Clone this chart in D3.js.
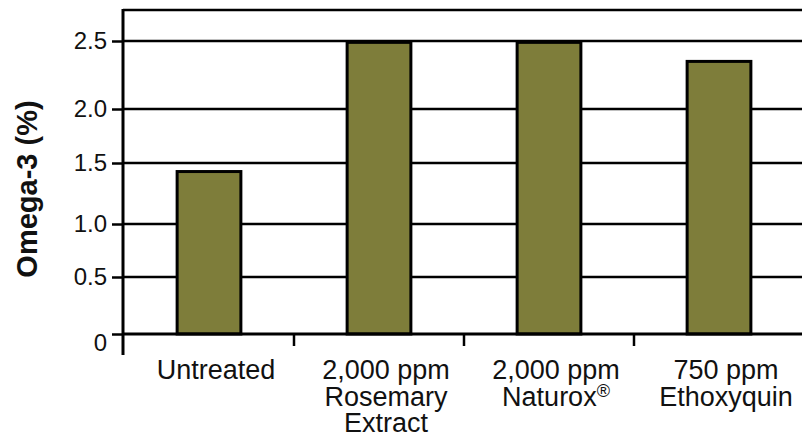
<!DOCTYPE html>
<html>
<head>
<meta charset="utf-8">
<script src="https://cdn.jsdelivr.net/npm/d3@7"></script>
<style>
  body { margin: 0; background: #fff; }
  svg { display: block; font-family: "Liberation Sans", Arial, sans-serif; }
</style>
</head>
<body>
<svg id="chart" width="802" height="437"></svg>
<script>
// values
const categories = ['Untreated', '2,000 ppm Rosemary Extract', '2,000 ppm Naturox®', '750 ppm Ethoxyquin']
const labelLines = [['Untreated'], ['2,000 ppm', 'Rosemary', 'Extract'], ['2,000 ppm', 'Naturox®'], ['750 ppm', 'Ethoxyquin']]
const omega3 = [1.43, 2.49, 2.49, 2.35]
const yTicks = [0, 0.5, 1.0, 1.5, 2.0, 2.5]
const yTickLabels = ['0', '0.5', '1.0', '1.5', '2.0', '2.5']

const svg = d3.select('#chart')
const plotLeft = 123, plotRight = 804, plotTop = 10, plotBottom = 334

// the source image has slightly uneven gridline spacing, so map each tick to where it sits
const y = d3.scaleLinear()
    .domain(yTicks)
    .range([334, 277, 224, 163, 109, 41])

const x = d3.scaleBand()
    .domain(categories)
    .range([plotLeft + 1, plotRight])
    .padding(0)

// gridlines (behind bars)
svg.append('g')
    .selectAll('line')
    .data(yTicks.filter(d => d > 0))
    .join('line')
    .attr('x1', plotLeft).attr('x2', 802)
    .attr('y1', d => y(d)).attr('y2', d => y(d))
    .attr('stroke', '#000')
    .attr('stroke-width', 2.5)

// top frame line
svg.append('line')
    .attr('x1', plotLeft).attr('x2', 802)
    .attr('y1', plotTop).attr('y2', plotTop)
    .attr('stroke', '#000').attr('stroke-width', 2.5)

// bars
const barW = x.bandwidth() * 0.375
svg.append('g')
    .selectAll('rect')
    .data(categories)
    .join('rect')
    .attr('x', d => x(d) + x.bandwidth() / 2 - barW / 2)
    .attr('width', barW)
    .attr('y', (d, i) => y(omega3[i]))
    .attr('height', (d, i) => y(0) - y(omega3[i]))
    .attr('fill', '#7e7d3a')
    .attr('stroke', '#000')
    .attr('stroke-width', 3)

// baseline
svg.append('line')
    .attr('x1', plotLeft).attr('x2', 802)
    .attr('y1', plotBottom).attr('y2', plotBottom)
    .attr('stroke', '#000').attr('stroke-width', 3)

// y axis
const yAxis = svg.append('g')
    .attr('transform', `translate(${plotLeft},0)`)
    .call(d3.axisLeft(y).tickValues(yTicks).tickSize(11).tickPadding(5)
        .tickFormat((d, i) => yTickLabels[i]))
yAxis.select('.domain').remove()
yAxis.selectAll('.tick line').attr('stroke', '#000').attr('stroke-width', 2.5)
yAxis.selectAll('.tick text')
    .attr('font-size', 24)
    .attr('fill', '#111')
    .attr('dy', d => d === 0 ? '0.7em' : '0.33em')

svg.append('line')
    .attr('x1', plotLeft).attr('x2', plotLeft)
    .attr('y1', plotTop - 1).attr('y2', 355)
    .attr('stroke', '#000').attr('stroke-width', 3)

// category separator ticks under the baseline
svg.append('g')
    .selectAll('line')
    .data(categories.slice(1))
    .join('line')
    .attr('x1', d => x(d)).attr('x2', d => x(d))
    .attr('y1', plotBottom).attr('y2', 346)
    .attr('stroke', '#000').attr('stroke-width', 2.5)

// category labels, one text per line (sit a little right of the bar centres in the original)
const labelG = svg.append('g')
categories.forEach((d, i) => {
    labelLines[i].forEach((line, k) => {
        const t = labelG.append('text')
            .attr('x', x(d) + x.bandwidth() / 2 + 7)
            .attr('y', 379 + k * 26.5)
            .attr('text-anchor', 'middle')
            .attr('font-size', 27)
            .attr('fill', '#111')
        if (line.endsWith('®')) {
            t.append('tspan').text(line.slice(0, -1))
            t.append('tspan').attr('font-size', 18).attr('dy', -9).text('®')
        } else {
            t.text(line)
        }
    })
})

// y axis title
svg.append('text')
    .attr('transform', 'translate(37,189) rotate(-90)')
    .attr('text-anchor', 'middle')
    .attr('font-size', 29)
    .attr('font-weight', 'bold')
    .attr('fill', '#111')
    .text('Omega-3 (%)')
</script>
</body>
</html>
